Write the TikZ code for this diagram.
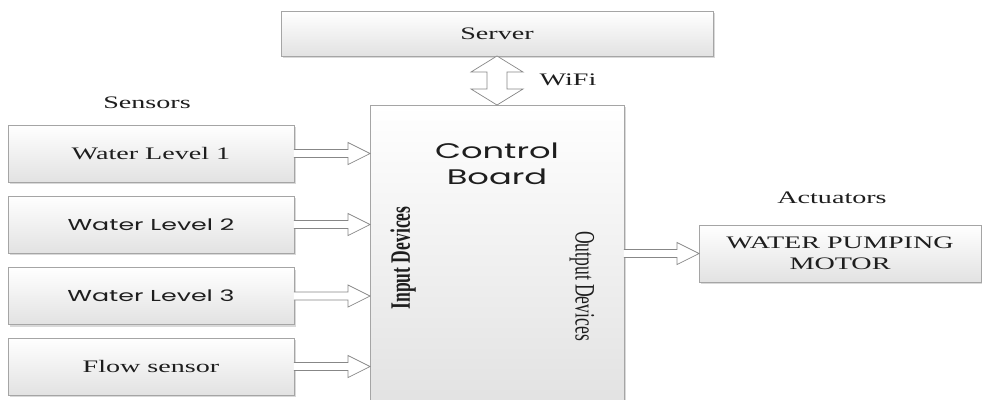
\documentclass[tikz,border=0pt]{standalone}
\usepackage{fontspec}
\setmainfont{Liberation Serif}[FakeStretch=1.6]
\newfontfamily\plainserif{Liberation Serif}
\newfontfamily\gothic{Poppins}[FakeStretch=1.6]
\usetikzlibrary{calc,shadows}
\definecolor{boxedge}{RGB}{165,165,165}
\definecolor{boxfill}{RGB}{226,226,226}
\definecolor{arrowedge}{RGB}{135,135,135}
\definecolor{inktext}{RGB}{30,30,30}

% hollow block arrow, left to right
\newcommand{\blockarrow}[2]{%
  \draw[blockline] ($(#1)+(0,-4)$) -- ($(#2)+(-22,-4)$) -- ($(#2)+(-22,-11)$) -- (#2)
    -- ($(#2)+(-22,11)$) -- ($(#2)+(-22,4)$) -- ($(#1)+(0,4)$);}

\begin{document}
\begin{tikzpicture}[x=0.02cm, y=-0.02cm,
    unit/.style={rectangle, draw=boxedge, top color=white, bottom color=boxfill,
                 outer sep=0pt, inner sep=0pt, align=center, text=inktext,
                 drop shadow={shadow xshift=0.04cm, shadow yshift=-0.04cm, opacity=0.3, fill=gray}},
    sensor/.style={unit, minimum width=5.72cm, minimum height=1.14cm},
    tag/.style={text=inktext, inner sep=1pt},
    blockline/.style={draw=arrowedge, fill=white, line join=miter}
]
    \useasboundingbox (0,0) rectangle (982,399);
    \clip (0,0) rectangle (982,399);

    \node[unit, minimum width=8.64cm, minimum height=0.9cm] (server) at (497,33.5) {Server};
    \node[unit, minimum width=5.08cm, minimum height=6cm] (board) at (497,255) {};
    \node[tag, align=center, font=\gothic\fontsize{12}{14.5}\selectfont] (boardname) at (497,164) {Control\\Board};
    \node[tag, rotate=90] (indev) at (403,258) {\scalebox{1}[1.6]{\plainserif\bfseries Input Devices}};
    \node[tag, rotate=-90] (outdev) at (582,286) {\scalebox{1}[1.6]{\plainserif Output Devices}};
    \node[tag] (wifi) at (568,80) {WiFi};

    \node[tag] (sensors) at (147,103) {Sensors};
    \node[sensor] (wlone) at (151,153.5) {Water Level 1};
    \node[sensor, font=\gothic\fontsize{9}{11}\selectfont] (wltwo) at (151,224.5) {Water Level 2};
    \node[sensor, font=\gothic\fontsize{9}{11}\selectfont] (wlthree) at (151,296) {Water Level 3};
    \node[sensor] (flow) at (151,366.5) {Flow sensor};

    \node[tag] (actuators) at (832,198) {Actuators};
    \node[unit, minimum width=5.64cm, minimum height=1.14cm] (motor) at (840,253.5) {WATER PUMPING\\MOTOR};

    \blockarrow{wlone.east}{wlone.east -| board.west}
    \blockarrow{wltwo.east}{wltwo.east -| board.west}
    \blockarrow{wlthree.east}{wlthree.east -| board.west}
    \blockarrow{flow.east}{flow.east -| board.west}
    \blockarrow{board.east |- motor.west}{motor.west}

    % two-way link to the server
    \draw[blockline] (server.south) -- ($(server.south)+(26,16)$) -- ($(server.south)+(10,16)$)
        -- ($(board.north)+(10,-16)$) -- ($(board.north)+(26,-16)$) -- (board.north)
        -- ($(board.north)+(-26,-16)$) -- ($(board.north)+(-10,-16)$)
        -- ($(server.south)+(-10,16)$) -- ($(server.south)+(-26,16)$) -- cycle;
\end{tikzpicture}
\end{document}
